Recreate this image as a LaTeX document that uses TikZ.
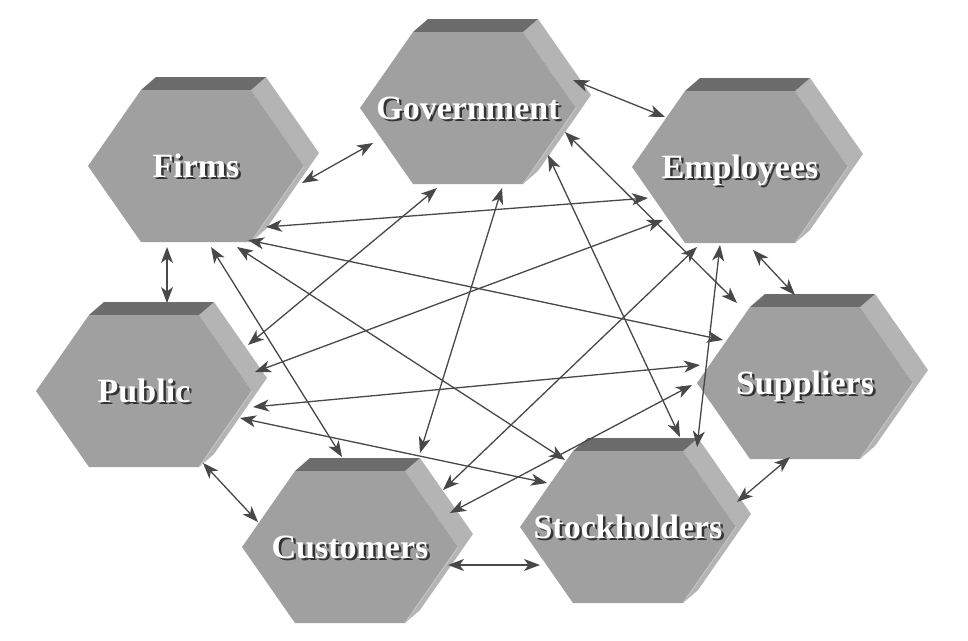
\documentclass[tikz,border=0pt]{standalone}
\usepackage{fontspec}
\setmainfont{Liberation Serif}
\usetikzlibrary{arrows.meta}
\definecolor{hexfront}{RGB}{160,160,160}
\definecolor{hextop}{RGB}{108,108,108}
\definecolor{hexside}{RGB}{180,180,180}
\definecolor{hexedge}{RGB}{196,196,196}
\definecolor{arrowcol}{RGB}{72,72,72}
\tikzset{
  hexlabel/.style={font=\bfseries\fontsize{34}{37}\selectfont, text=white, inner sep=0pt, anchor=base},
  hexshadow/.style={hexlabel, text=black!80},
  biarrow/.style={draw=arrowcol, line width=1.3pt,
    {Stealth[length=16pt,width=12pt,inset=4.5pt]}-{Stealth[length=16pt,width=12pt,inset=4.5pt]}}
}
\newcommand{\hexblock}[4]{%
  \fill[hexside] (#2+55,#3-76) -- (#2+108,#3) -- (#2+55,#3+76) -- (#2+70,#3+63) -- (#2+123,#3-13) -- (#2+70,#3-89) -- cycle;
  \fill[hextop] (#2-55,#3-76) -- (#2+55,#3-76) -- (#2+70,#3-89) -- (#2-40,#3-89) -- cycle;
  \fill[hexfront] (#2-108,#3) -- (#2-55,#3-76) -- (#2+55,#3-76) -- (#2+108,#3) -- (#2+55,#3+76) -- (#2-55,#3+76) -- cycle;
  \draw[hexedge, line width=1pt] (#2+108,#3) -- (#2+55,#3+76);
  \node[hexshadow] at (#2+2.5,#3+13.5) {#4};
  \node[hexlabel] (#1) at (#2,#3+11) {#4};
}
\begin{document}
\begin{tikzpicture}[x=1pt,y=-1pt]
\fill[white] (0,0) rectangle (968,640);
\useasboundingbox (0,0) rectangle (968,640);

\hexblock{firms}{196}{166}{Firms}
\hexblock{gov}{468}{108}{Government}
\hexblock{emp}{740}{167}{Employees}
\hexblock{pub}{144}{391}{Public}
\hexblock{sup}{805}{383}{Suppliers}
\hexblock{cust}{350}{547}{Customers}
\hexblock{stock}{628}{527}{Stockholders}

% connector end points
\coordinate (f1) at (302,183); \coordinate (g1) at (373,143);
\coordinate (g2) at (573,80);  \coordinate (e1) at (665,117);
\coordinate (f2) at (167,247); \coordinate (p1) at (167,303);
\coordinate (e2) at (753,250); \coordinate (s1) at (795,295);
\coordinate (p2) at (203,463); \coordinate (c1) at (258,522);
\coordinate (c2) at (448,565); \coordinate (k1) at (540,565);
\coordinate (s2) at (790,457); \coordinate (k2) at (737,502);
\coordinate (f3) at (266,227); \coordinate (e3) at (648,198);
\coordinate (f4) at (248,240); \coordinate (s3) at (723,340);
\coordinate (f5) at (237,247); \coordinate (k3) at (565,460);
\coordinate (f6) at (211,247); \coordinate (c3) at (342,457);
\coordinate (g3) at (437,188); \coordinate (p3) at (248,345);
\coordinate (g4) at (502,188); \coordinate (c4) at (420,453);
\coordinate (g5) at (548,155); \coordinate (k4) at (680,437);
\coordinate (g6) at (565,132); \coordinate (s4) at (737,303);
\coordinate (e4) at (663,220); \coordinate (p4) at (255,372);
\coordinate (e5) at (697,247); \coordinate (c5) at (443,490);
\coordinate (e6) at (720,245); \coordinate (k5) at (697,447);
\coordinate (p5) at (253,407); \coordinate (s5) at (700,365);
\coordinate (p6) at (240,418); \coordinate (k6) at (547,483);
\coordinate (c6) at (450,513); \coordinate (s6) at (692,385);

\draw[biarrow] (f1) -- (g1);
\draw[biarrow] (g2) -- (e1);
\draw[biarrow] (f2) -- (p1);
\draw[biarrow] (e2) -- (s1);
\draw[biarrow] (p2) -- (c1);
\draw[biarrow] (c2) -- (k1);
\draw[biarrow] (s2) -- (k2);
\draw[biarrow] (f3) -- (e3);
\draw[biarrow] (f4) -- (s3);
\draw[biarrow] (f5) -- (k3);
\draw[biarrow] (f6) -- (c3);
\draw[biarrow] (g3) -- (p3);
\draw[biarrow] (g4) -- (c4);
\draw[biarrow] (g5) -- (k4);
\draw[biarrow] (g6) -- (s4);
\draw[biarrow] (e4) -- (p4);
\draw[biarrow] (e5) -- (c5);
\draw[biarrow] (e6) -- (k5);
\draw[biarrow] (p5) -- (s5);
\draw[biarrow] (p6) -- (k6);
\draw[biarrow] (c6) -- (s6);
\end{tikzpicture}
\end{document}
